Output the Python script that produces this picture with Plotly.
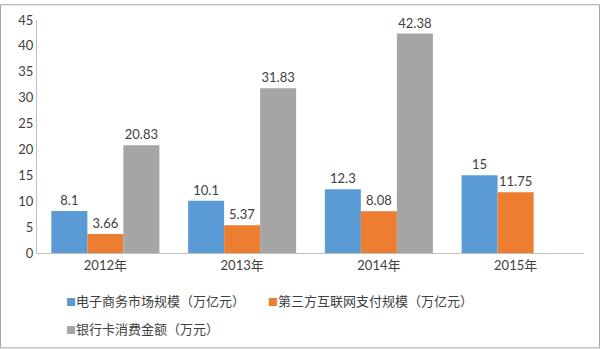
import plotly.graph_objects as go

categories = ["2012年", "2013年", "2014年", "2015年"]
ecommerce = [8.1, 10.1, 12.3, 15]
third_party = [3.66, 5.37, 8.08, 11.75]
bank_card = [20.83, 31.83, 42.38, None]
series_names = ["电子商务市场规模（万亿元）", "第三方互联网支付规模（万亿元）", "银行卡消费金额（万元）"]
colors = ["#5b9bd5", "#ed7d31", "#a5a5a5"]
y_ticks = [0, 5, 10, 15, 20, 25, 30, 35, 40, 45]

FONT = "Lato, 'Noto Sans CJK SC', sans-serif"

fig = go.Figure()
for name, vals, col in zip(series_names, [ecommerce, third_party, bank_card], colors):
    fig.add_trace(go.Bar(
        x=categories, y=vals, name=name, showlegend=False,
        marker=dict(color=col, line=dict(width=0)),
        text=[("" if v is None else f"{v:g}") for v in vals],
        textposition="outside",
        textfont=dict(size=13, color="#404040", family=FONT),
        cliponaxis=False,
    ))

legend_ids = ["legend", "legend2", "legend3"]
# legend entries: small coloured squares drawn as part of the label text
for name, col, lid in zip(series_names, colors, legend_ids):
    fig.add_trace(go.Scatter(
        x=[None], y=[None], mode="markers",
        marker=dict(color="rgba(0,0,0,0)", size=0, line=dict(width=0)),
        name=f"<span style='color:{col};font-size:10px'>■</span>{name}",
        showlegend=True, legend=lid, hoverinfo="skip",
    ))

L, R, T, B = 37, 16, 16, 97
W, H = 600, 350
pw, ph = W - L - R, H - T - B

def px_x(p):
    return (p - L) / pw

def px_y(p):
    return (H - B - p) / ph

leg_common = dict(orientation="h", xref="container", yref="container",
                  xanchor="left", yanchor="middle",
                  font=dict(size=13, color="#404040", family=FONT),
                  itemwidth=30, bgcolor="rgba(0,0,0,0)")

fig.update_layout(
    width=W, height=H,
    margin=dict(l=L, r=R, t=T, b=B),
    paper_bgcolor="white", plot_bgcolor="white",
    barmode="group", bargap=0.21, bargroupgap=0,
    font=dict(family=FONT, size=13, color="#404040"),
    xaxis=dict(showline=True, linecolor="#bfbfbf", linewidth=1, ticks="",
               tickfont=dict(size=13, color="#404040"), showgrid=False),
    yaxis=dict(range=[0, 45], tickvals=y_ticks, showline=True, linecolor="#bfbfbf",
               linewidth=1, showgrid=False, zeroline=False, ticks="",
               tickfont=dict(size=13, color="#404040")),
    legend=dict(leg_common, x=(65 - 39) / W, y=1 - 301 / H),
    legend2=dict(leg_common, x=(267 - 39) / W, y=1 - 301 / H),
    legend3=dict(leg_common, x=(65 - 39) / W, y=1 - 329 / H),
    shapes=[dict(type="rect", xref="paper", yref="paper",
                 x0=px_x(0.5), x1=px_x(599.5), y0=px_y(349.5), y1=px_y(0.5),
                 line=dict(color="#a6a6a6", width=1), layer="above")],
)

fig.write_html("out.html")
